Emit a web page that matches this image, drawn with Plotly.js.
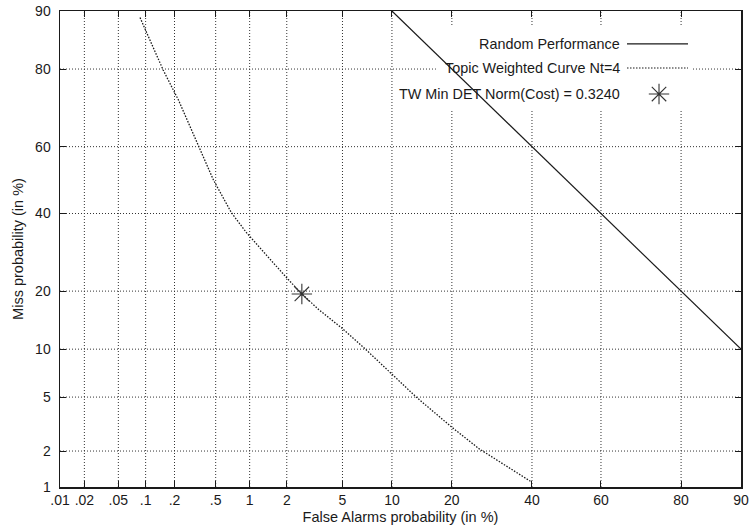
<!DOCTYPE html>
<html>
<head>
<meta charset="utf-8">
<script src="https://cdn.plot.ly/plotly-3.0.1.min.js"></script>
<style>html,body{margin:0;padding:0;background:#fff;}#chart{width:751px;height:531px;}</style>
</head>
<body>
<div id="chart"></div>
<script>
// ---- data (percent) ----
var xTickVals = [0.01, 0.02, 0.05, 0.1, 0.2, 0.5, 1, 2, 5, 10, 20, 40, 60, 80, 90];
var xTickText = [".01", ".02", ".05", ".1", ".2", ".5", "1", "2", "5", "10", "20", "40", "60", "80", "90"];
var yTickVals = [1, 2, 5, 10, 20, 40, 60, 80, 90];
var yTickText = ["1", "2", "5", "10", "20", "40", "60", "80", "90"];

var randomFA   = [10, 20, 30, 40, 50, 60, 70, 80, 90];
var randomMiss = [90, 80, 70, 60, 50, 40, 30, 20, 10];

var curveFA   = [0.087, 0.153, 0.219, 0.344, 0.477, 0.695, 0.94, 1.96, 2.6, 3.45, 4.95, 6.84, 9.87, 13.5, 19.9, 26.1, 39.8];
var curveMiss = [89.1, 79.8, 72.8, 60.5, 50.0, 40.2, 34.5, 23.2, 19.4, 16.3, 13.1, 10.2, 7.2, 5.0, 3.07, 2.08, 1.11];

var minCostFA = [2.6];
var minCostMiss = [19.4];

var legendLabels = ["Random Performance", "Topic Weighted Curve Nt=4", "TW Min DET Norm(Cost) = 0.3240"];

// ---- normal deviate scale (DET axes) ----
function probit(pct) {
  var p = pct / 100;
  var a = [-3.969683028665376e+01, 2.209460984245205e+02, -2.759285104469687e+02, 1.383577518672690e+02, -3.066479806614716e+01, 2.506628277459239e+00];
  var b = [-5.447609879822406e+01, 1.615858368580409e+02, -1.556989798598866e+02, 6.680131188771972e+01, -1.328068155288572e+01];
  var c = [-7.784894002430293e-03, -3.223964580411365e-01, -2.400758277161838e+00, -2.549732539343734e+00, 4.374664141464968e+00, 2.938163982698783e+00];
  var d = [7.784695709041462e-03, 3.224671290700398e-01, 2.445134137142996e+00, 3.754408661907416e+00];
  var pl = 0.02425, q, r;
  if (p < pl) {
    q = Math.sqrt(-2 * Math.log(p));
    return (((((c[0]*q+c[1])*q+c[2])*q+c[3])*q+c[4])*q+c[5]) / ((((d[0]*q+d[1])*q+d[2])*q+d[3])*q+1);
  } else if (p <= 1 - pl) {
    q = p - 0.5; r = q * q;
    return (((((a[0]*r+a[1])*r+a[2])*r+a[3])*r+a[4])*r+a[5])*q / (((((b[0]*r+b[1])*r+b[2])*r+b[3])*r+b[4])*r+1);
  } else {
    q = Math.sqrt(-2 * Math.log(1 - p));
    return -(((((c[0]*q+c[1])*q+c[2])*q+c[3])*q+c[4])*q+c[5]) / ((((d[0]*q+d[1])*q+d[2])*q+d[3])*q+1);
  }
}
function P(arr) { return arr.map(probit); }

var font = "Liberation Sans, Arial, Helvetica, sans-serif";
var ink = "#1a1a1a";
var starColor = "#333";

var traces = [
  {x: P(randomFA), y: P(randomMiss), mode: "lines", type: "scatter",
   line: {color: ink, width: 1.2}, hoverinfo: "skip", showlegend: false},
  {x: P(curveFA), y: P(curveMiss), mode: "lines", type: "scatter",
   line: {color: ink, width: 1.3, dash: "1.5px,1.5px"}, showlegend: false},
  {x: P(minCostFA), y: P(minCostMiss), mode: "markers", type: "scatter",
   marker: {symbol: "asterisk-open", size: 17, color: starColor, line: {color: starColor, width: 1.1}}, showlegend: false},
  // legend sample for the asterisk, on a hidden overlay axis
  {x: [0.8796], y: [0.8256], xaxis: "x2", yaxis: "y2", mode: "markers", type: "scatter",
   marker: {symbol: "asterisk-open", size: 17, color: starColor, line: {color: starColor, width: 1.1}}, showlegend: false, hoverinfo: "skip"}
];

// dotted grid drawn as shapes so the key's white box can cover it
var gridStyle = {color: "#333", width: 1, dash: "1px,2px"};
var shapes = [];
xTickVals.slice(1, -1).forEach(function (v) {
  shapes.push({type: "line", xref: "x", yref: "paper", x0: probit(v), x1: probit(v), y0: 0, y1: 1, line: gridStyle, layer: "below"});
});
yTickVals.slice(1, -1).forEach(function (v) {
  shapes.push({type: "line", xref: "paper", yref: "y", x0: 0, x1: 1, y0: probit(v), y1: probit(v), line: gridStyle, layer: "below"});
});
shapes.push({type: "rect", xref: "paper", yref: "paper", x0: 0.552, x1: 0.9295, y0: 0.792, y1: 0.9706,
  fillcolor: "#fff", line: {width: 0}, layer: "below"});
shapes.push({type: "line", xref: "paper", yref: "paper", x0: 0.8326, x1: 0.9222, y0: 0.931, y1: 0.931,
  line: {color: ink, width: 1.2}});
shapes.push({type: "line", xref: "paper", yref: "paper", x0: 0.8326, x1: 0.9222, y0: 0.8803, y1: 0.8803,
  line: {color: ink, width: 1.2, dash: "1.5px,1.5px"}});

var axisCommon = {
  showgrid: false, zeroline: false, showline: true, linecolor: ink, linewidth: 1.5, mirror: "ticks",
  ticks: "inside", ticklen: 6, tickwidth: 1, tickcolor: ink,
  tickfont: {family: font, size: 14, color: ink}
};

var legendFont = {family: font, size: 14.4, color: ink};

var layout = {
  width: 751, height: 531,
  margin: {l: 60, r: 10, t: 11, b: 44},
  paper_bgcolor: "#fff", plot_bgcolor: "#fff",
  showlegend: false,
  xaxis: Object.assign({}, axisCommon, {
    range: [probit(0.01), probit(90)],
    tickmode: "array", tickvals: P(xTickVals), ticktext: xTickText,
    title: {text: "False Alarms probability (in %)", font: {family: font, size: 14.5, color: ink}, standoff: 4}
  }),
  yaxis: Object.assign({}, axisCommon, {
    range: [probit(1), probit(90)],
    tickmode: "array", tickvals: P(yTickVals), ticktext: yTickText, ticklabelstandoff: 5,
    title: {text: "Miss probability (in %)", font: {family: font, size: 14.5, color: ink}, standoff: 8}
  }),
  xaxis2: {overlaying: "x", range: [0, 1], visible: false, fixedrange: true},
  yaxis2: {overlaying: "y", range: [0, 1], visible: false, fixedrange: true},
  shapes: shapes,
  annotations: [
    {xref: "paper", yref: "paper", x: 0.825, y: 0.931, text: legendLabels[0], showarrow: false,
     xanchor: "right", yanchor: "middle", font: legendFont},
    {xref: "paper", yref: "paper", x: 0.825, y: 0.8803, text: legendLabels[1], showarrow: false,
     xanchor: "right", yanchor: "middle", font: legendFont},
    {xref: "paper", yref: "paper", x: 0.825, y: 0.8256, text: legendLabels[2], showarrow: false,
     xanchor: "right", yanchor: "middle", font: legendFont}
  ]
};

Plotly.newPlot("chart", traces, layout, {displayModeBar: false, staticPlot: true});
</script>
</body>
</html>
